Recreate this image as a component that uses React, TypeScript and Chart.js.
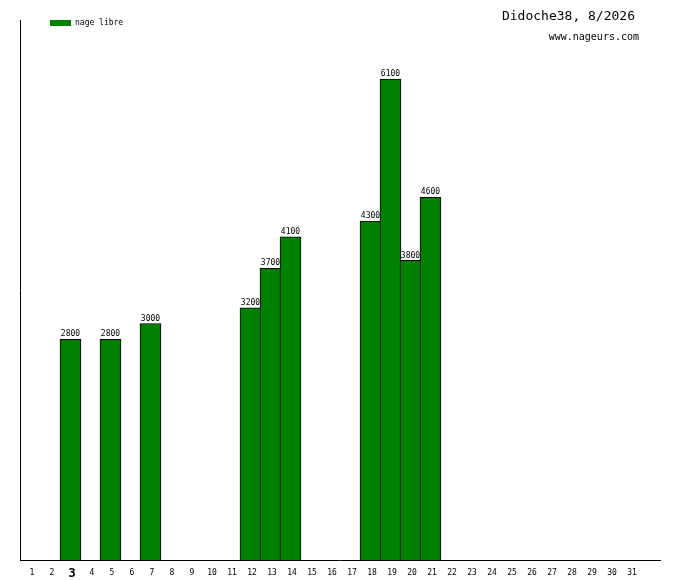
import { useEffect, useRef } from 'react';
import { Chart, registerables } from 'chart.js';

Chart.register(...registerables);

// days of the month (x axis categories)
const days = [
  1, 2, 3, 4, 5, 6, 7, 8, 9, 10, 11, 12, 13, 14, 15, 16,
  17, 18, 19, 20, 21, 22, 23, 24, 25, 26, 27, 28, 29, 30, 31,
];
// days with a swim and the distance swum (m)
const swimDays = [3, 5, 7, 12, 13, 14, 18, 19, 20, 21];
const distances = [2800, 2800, 3000, 3200, 3700, 4100, 4300, 6100, 3800, 4600];
const today = 3;

const seriesName = 'nage libre';
const title = 'Didoche38, 8/2026';
const site = 'www.nageurs.com';

const MONO = '"DejaVu Sans Mono", monospace';
const GREEN = '#008000';

const decorPlugin = {
  id: 'decor',
  afterDatasetsDraw(chart: Chart) {
    const ctx = chart.ctx;
    const meta = chart.getDatasetMeta(0);
    ctx.save();
    ctx.fillStyle = '#000';

    // value above each bar
    ctx.font = `8px ${MONO}`;
    ctx.textAlign = 'center';
    ctx.textBaseline = 'bottom';
    meta.data.forEach((bar: any, i: number) => {
      ctx.fillText(String(distances[i]), bar.x, bar.y - 1);
    });

    // title, top right
    ctx.textAlign = 'right';
    ctx.textBaseline = 'middle';
    ctx.font = `13px ${MONO}`;
    ctx.fillText(title, 635, 17);
    ctx.font = `10px ${MONO}`;
    ctx.fillText(site, 639, 37);

    // legend
    ctx.fillStyle = GREEN;
    ctx.fillRect(50, 20, 21, 6);
    ctx.fillStyle = '#000';
    ctx.textAlign = 'left';
    ctx.font = `8px ${MONO}`;
    ctx.fillText(seriesName, 75, 23);
    ctx.restore();
  },
};

export default function App() {
  const chartRef = useRef<HTMLCanvasElement>(null);

  useEffect(() => {
    if (!chartRef.current) return;

    const chart = new Chart(chartRef.current, {
      type: 'bar',
      data: {
        datasets: [{
          label: seriesName,
          data: swimDays.map((d, i) => ({ x: d, y: distances[i] })),
          backgroundColor: GREEN,
          borderColor: '#000',
          borderWidth: 1,
          barThickness: 21,
          xAxisID: 'x',
          yAxisID: 'y',
        }],
      },
      options: {
        animation: false,
        responsive: false,
        devicePixelRatio: 1,
        layout: { padding: { left: 20, top: 20, right: 20, bottom: 0 } },
        plugins: {
          legend: { display: false },
          tooltip: { enabled: false },
        },
        scales: {
          x: {
            type: 'linear',
            min: 0.475,
            max: 32.475,
            offset: false,
            grid: { offset: false },
            display: false,
          },
          days: {
            type: 'linear',
            position: 'bottom',
            min: 0.4,
            max: 32.4,
            offset: false,
            grid: { display: false, drawTicks: false, offset: false },
            border: { color: '#000', width: 1 },
            afterBuildTicks: (axis: any) => {
              axis.ticks = days.map((v) => ({ value: v }));
            },
            afterFit: (axis: any) => {
              axis.height = 20;
              axis.paddingLeft = 0;
              axis.paddingRight = 0;
            },
            ticks: {
              padding: 8,
              autoSkip: false,
              maxRotation: 0,
              color: '#000',
              font: (c: any) =>
                c.tick && c.tick.value === today
                  ? { family: MONO, size: 12, weight: 'bold', lineHeight: 1 }
                  : { family: MONO, size: 8, lineHeight: 1.2 },
            },
          },
          y: {
            min: 0,
            max: 6850,
            ticks: { display: false },
            grid: { display: false, drawTicks: false },
            border: { color: '#000', width: 1 },
            afterFit: (axis: any) => {
              axis.width = 0;
            },
          },
        },
      },
      plugins: [decorPlugin],
    });

    return () => {
      chart.destroy();
    };
  }, []);

  return (
    <div style={{ position: 'fixed', left: 0, top: 0, width: 680, height: 580, background: '#fff' }}>
      <canvas ref={chartRef} width={680} height={580} />
    </div>
  );
}
